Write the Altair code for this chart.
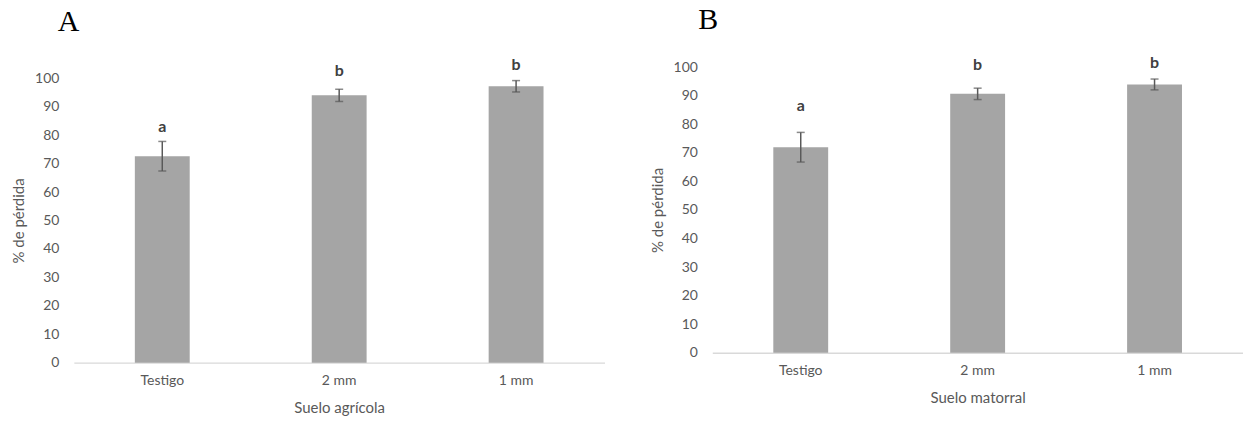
import altair as alt
import pandas as pd

categories = ["Testigo", "2 mm", "1 mm"]

a_mean = [72.6, 94.0, 97.2]
a_err = [5.2, 2.15, 2.0]
a_letters = ["a", "b", "b"]
a_label_y = [82.8, 102.4, 104.8]

b_mean = [72.0, 90.7, 94.0]
b_err = [5.2, 2.0, 1.9]
b_letters = ["a", "b", "b"]
b_label_y = [86.4, 100.7, 101.5]

y_ticks = [0, 10, 20, 30, 40, 50, 60, 70, 80, 90, 100]

FONT = "Lato"
BAR = "#A5A5A5"
ERR = "#595959"
TXT = "#595959"


def panel(mean, err, letters, label_y, xtitle, letter, height, yrange, dx):
    df = pd.DataFrame({
        "cat": categories,
        "mean": mean,
        "lo": [m - e for m, e in zip(mean, err)],
        "hi": [m + e for m, e in zip(mean, err)],
        "letter": letters,
        "ly": label_y,
    })
    x = alt.X("cat:N", sort=categories,
              scale=alt.Scale(paddingInner=0, paddingOuter=0),
              axis=alt.Axis(title=xtitle, labelAngle=0, ticks=False, tickSize=0,
                            domainColor="#D9D9D9", domainWidth=1.5,
                            labelFont=FONT, labelFontSize=14, labelColor=TXT,
                            labelPadding=11, titleFont=FONT, titleFontSize=15,
                            titleFontWeight="normal", titleColor=TXT, titlePadding=13,
                            grid=False))
    yscale = alt.Scale(domain=[0, 100], range=yrange, nice=False, zero=True)
    y = alt.Y("mean:Q", scale=yscale,
              axis=alt.Axis(title="% de pérdida", values=y_ticks, ticks=False, tickSize=0,
                            labelOverlap=False, tickCount=11,
                            domain=False, grid=False, labelFont=FONT, labelFontSize=14,
                            labelColor=TXT, labelPadding=15, titleFont=FONT,
                            titleFontSize=15, titleFontWeight="normal", titleColor=TXT,
                            titlePadding=8))
    base = alt.Chart(df)
    bars = base.mark_bar(size=55, color=BAR).encode(x=x, y=y)
    rule = base.mark_rule(color=ERR, strokeWidth=1.5).encode(
        x=alt.X("cat:N", sort=categories), y=alt.Y("lo:Q", scale=yscale), y2="hi:Q")
    cap_lo = base.mark_tick(color=ERR, size=8, thickness=1.5, orient="horizontal").encode(
        x=alt.X("cat:N", sort=categories), y=alt.Y("lo:Q", scale=yscale))
    cap_hi = base.mark_tick(color=ERR, size=8, thickness=1.5, orient="horizontal").encode(
        x=alt.X("cat:N", sort=categories), y=alt.Y("hi:Q", scale=yscale))
    txt = base.mark_text(font=FONT, fontSize=16, fontWeight="bold", color="#404040",
                         baseline="middle").encode(
        x=alt.X("cat:N", sort=categories), y=alt.Y("ly:Q", scale=yscale), text="letter:N")
    return alt.layer(bars, rule, cap_lo, cap_hi, txt).properties(
        width=532, height=height,
        title=alt.TitleParams(letter, anchor="start", frame="group", font="Liberation Serif",
                              fontSize=30, fontWeight="normal", color="black", dx=dx,
                              offset=20),
    )


chart_a = panel(a_mean, a_err, a_letters, a_label_y, "Suelo agrícola", "A", 296, [296, 11], -16)
chart_b = panel(b_mean, b_err, b_letters, b_label_y, "Suelo matorral", "B", 286, [286, 0], -14)

chart = alt.hconcat(chart_a, chart_b, spacing=108, bounds="flush").properties(
    padding={"left": 11, "top": 4, "right": 0, "bottom": 0},
    background="white",
).configure_view(strokeOpacity=0, strokeWidth=0)

chart.save("out.html", embed_options={"renderer": "svg", "actions": False})
